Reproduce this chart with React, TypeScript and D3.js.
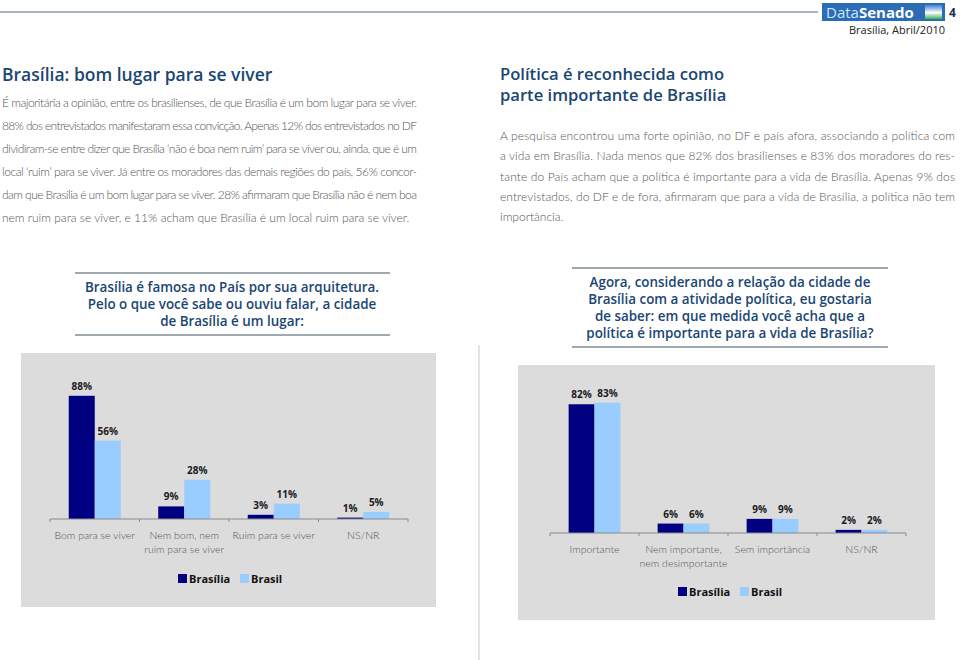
import React from "react";
import * as d3 from "d3";

const seriesNames = ["Brasília", "Brasil"];
const seriesColors = ["#000080", "#99ccff"];

const categoriesA = ["Bom para se viver", "Nem bom, nem|ruim para se viver", "Ruim para se viver", "NS/NR"];
const brasiliaA = [88, 9, 3, 1];
const brasilA = [56, 28, 11, 5];

const categoriesB = ["Importante", "Nem importante,|nem desimportante", "Sem importância", "NS/NR"];
const brasiliaB = [82, 6, 9, 2];
const brasilB = [83, 6, 9, 2];

const leftTitle = ["Brasília: bom lugar para se viver"];
const rightTitle = ["Política é reconhecida como", "parte importante de Brasília"];

const leftBody = [
  "É majoritária a opinião, entre os brasilienses, de que Brasília é um bom lugar para se viver.",
  "88% dos entrevistados manifestaram essa convicção. Apenas 12% dos entrevistados no DF",
  "dividiram-se entre dizer que Brasília ‘não é boa nem ruim’ para se viver ou, ainda, que é um",
  "local ‘ruim’ para se viver. Já entre os moradores das demais regiões do país, 56% concor-",
  "dam que Brasília é um bom lugar para se viver. 28% afirmaram que Brasília não é nem boa",
  "nem ruim para se viver, e 11% acham que Brasília é um local ruim para se viver.",
];
const rightBody = [
  "A pesquisa encontrou uma forte opinião, no DF e país afora, associando a política com",
  "a vida em Brasília. Nada menos que 82% dos brasilienses e 83% dos moradores do res-",
  "tante do País acham que a política é importante para a vida de Brasília. Apenas 9% dos",
  "entrevistados, do DF e de fora, afirmaram que para a vida de Brasília, a política não tem",
  "importância.",
];

const leftQuestion = [
  "Brasília é famosa no País por sua arquitetura.",
  "Pelo o que você sabe ou ouviu falar, a cidade",
  "de Brasília é um lugar:",
];
const rightQuestion = [
  "Agora, considerando a relação da cidade de",
  "Brasília com a atividade política, eu gostaria",
  "de saber: em que medida você acha que a",
  "política é importante para a vida de Brasília?",
];

const bodyFont = "Lato, 'Open Sans', sans-serif";
const titleFont = "'Open Sans', 'DejaVu Sans', sans-serif";
const titleColor = "#1a4674";

type ChartProps = {
  cats: string[];
  a: number[];
  b: number[];
  panel: [number, number, number, number];
  x0: number;
  x1: number;
  base: number;
  top100: number;
  legendX: number;
  legendY: number;
};

function BarChart({ cats, a, b, panel, x0, x1, base, top100, legendX, legendY }: ChartProps) {
  const x = d3.scaleBand<string>().domain(cats).range([x0, x1]).paddingInner(0).paddingOuter(0);
  const sub = d3.scaleBand<number>().domain([0, 1]).range([0, x.bandwidth()]).paddingInner(0).paddingOuter(0.72);
  const y = d3.scaleLinear().domain([0, 100]).range([base, top100]);
  const vals = [a, b];
  const ticks = [x0, ...cats.map((c) => (x(c) as number) + x.bandwidth())];
  return (
    <g>
      <rect x={panel[0]} y={panel[1]} width={panel[2]} height={panel[3]} fill="#dcdcdc" />
      {cats.map((c, i) =>
        vals.map((v, s) => {
          const bx = (x(c) as number) + (sub(s) as number);
          return (
            <g key={c + s}>
              <rect x={bx} y={y(v[i])} width={sub.bandwidth()} height={base - y(v[i])} fill={seriesColors[s]} />
              <text
                x={bx + sub.bandwidth() / 2}
                y={y(v[i]) - 6}
                textAnchor="middle"
                fontFamily={titleFont}
                fontWeight={700}
                fontSize={10}
                fill="#1a1a1a"
              >
                {v[i]}%
              </text>
            </g>
          );
        })
      )}
      <line x1={x0} x2={x1} y1={base} y2={base} stroke="#8a8a8a" strokeWidth={1} />
      {ticks.map((t, i) => (
        <line key={i} x1={t} x2={t} y1={base} y2={base + 3} stroke="#8a8a8a" strokeWidth={1} />
      ))}
      {cats.map((c) =>
        c.split("|").map((ln, j) => (
          <text
            key={c + j}
            x={(x(c) as number) + x.bandwidth() / 2}
            y={base + 20 + j * 14}
            textAnchor="middle"
            fontFamily={bodyFont}
            fontWeight={300}
            fontSize={10.5}
            fill="#555"
          >
            {ln}
          </text>
        ))
      )}
      <g>
        <rect x={legendX} y={legendY - 9} width={9} height={9} fill={seriesColors[0]} />
        <text x={legendX + 11} y={legendY} fontFamily={titleFont} fontWeight={700} fontSize={11} fill="#111">
          {seriesNames[0]}
        </text>
        <rect x={legendX + 62} y={legendY - 9} width={9} height={9} fill={seriesColors[1]} />
        <text x={legendX + 73} y={legendY} fontFamily={titleFont} fontWeight={700} fontSize={11} fill="#111">
          {seriesNames[1]}
        </text>
      </g>
    </g>
  );
}

function Paragraph({ lines, x, y, dy, width }: { lines: string[]; x: number; y: number; dy: number; width: number }) {
  return (
    <g>
      {lines.map((ln, i) => (
        <text
          key={i}
          x={x}
          y={y + i * dy}
          fontFamily={bodyFont}
          fontWeight={300}
          fontSize={12}
          fill="#555"
          {...(i < lines.length - 1 ? { textLength: width, lengthAdjust: "spacing" } : {})}
        >
          {ln}
        </text>
      ))}
    </g>
  );
}

function Question({ lines, cx, yTop, x1, x2, dy }: { lines: string[]; cx: number; yTop: number; x1: number; x2: number; dy: number }) {
  const yBottom = yTop + 11 + lines.length * dy;
  return (
    <g>
      <line x1={x1} x2={x2} y1={yTop} y2={yTop} stroke="#7f8c96" strokeWidth={1.5} />
      {lines.map((ln, i) => (
        <text
          key={i}
          x={cx}
          y={yTop + 19 + i * dy}
          textAnchor="middle"
          fontFamily={titleFont}
          fontWeight={600}
          fontSize={13.4}
          fill={titleColor}
        >
          {ln}
        </text>
      ))}
      <line x1={x1} x2={x2} y1={yBottom} y2={yBottom} stroke="#7f8c96" strokeWidth={1.5} />
    </g>
  );
}

export default function App() {
  return (
    <svg
      width={960}
      height={660}
      style={{ position: "absolute", left: 0, top: 0, background: "#fff" }}
      xmlns="http://www.w3.org/2000/svg"
    >
      <defs>
        <linearGradient id="logoIcon" x1="0" y1="0" x2="0" y2="1">
          <stop offset="0" stopColor="#3b82d0" />
          <stop offset="0.55" stopColor="#ffffff" />
          <stop offset="1" stopColor="#3cb04a" />
        </linearGradient>
      </defs>
      {/* header */}
      <line x1={0} x2={818} y1={12} y2={12} stroke="#8d9aa5" strokeWidth={1.5} />
      <rect x={822} y={3} width={123} height={18} fill="#2b6cb6" />
      <text x={826} y={18} fontFamily={titleFont} fontSize={15} fill="#cfe4fb">
        Data
        <tspan fontWeight={700} fill="#ffffff">Senado</tspan>
      </text>
      <rect x={925} y={5} width={17} height={14} fill="url(#logoIcon)" />
      <text x={949} y={17} fontFamily={titleFont} fontWeight={700} fontSize={12} fill="#1c2f4a">
        4
      </text>
      <text x={945} y={34} textAnchor="end" fontFamily={titleFont} fontSize={11} fill="#222">
        Brasília, Abril/2010
      </text>

      {/* divider */}
      <line x1={479} x2={479} y1={345} y2={660} stroke="#d3dde3" strokeWidth={1.5} />

      {/* titles */}
      {leftTitle.map((t, i) => (
        <text key={i} x={2} y={81 + i * 20} fontFamily={titleFont} fontWeight={600} fontSize={17.5} fill={titleColor}>
          {t}
        </text>
      ))}
      {rightTitle.map((t, i) => (
        <text key={i} x={500} y={80 + i * 21} fontFamily={titleFont} fontWeight={600} fontSize={16.6} fill={titleColor}>
          {t}
        </text>
      ))}

      <Paragraph lines={leftBody} x={2} y={107} dy={23} width={415} />
      <Paragraph lines={rightBody} x={500} y={140} dy={20.3} width={455} />

      <Question lines={leftQuestion} cx={232} yTop={273} x1={75} x2={390} dy={17} />
      <Question lines={rightQuestion} cx={730} yTop={268} x1={572} x2={888} dy={17} />

      <BarChart
        cats={categoriesA}
        a={brasiliaA}
        b={brasilA}
        panel={[21, 353, 415, 254]}
        x0={50}
        x1={408}
        base={519}
        top100={379}
        legendX={178}
        legendY={583}
      />
      <BarChart
        cats={categoriesB}
        a={brasiliaB}
        b={brasilB}
        panel={[518, 365, 417, 255]}
        x0={550}
        x1={906}
        base={533}
        top100={376}
        legendX={678}
        legendY={596}
      />
    </svg>
  );
}
